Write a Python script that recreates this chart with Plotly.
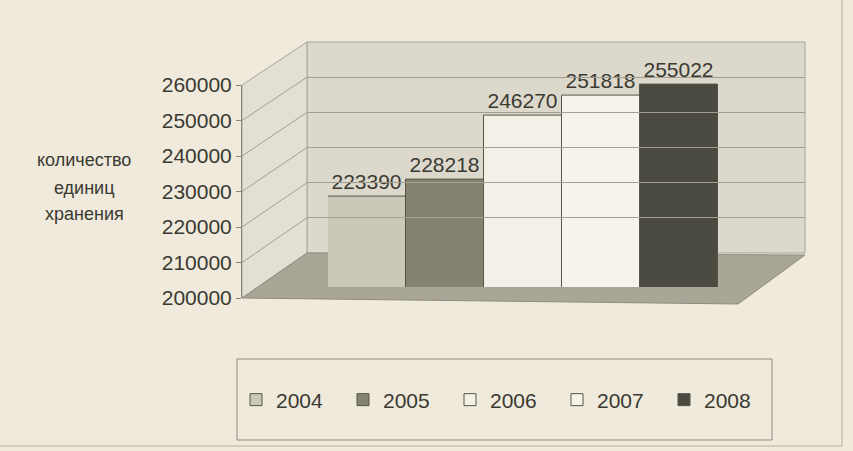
import plotly.graph_objects as go

# ---- data ----
years = ["2004", "2005", "2006", "2007", "2008"]
values = [223390, 228218, 246270, 251818, 255022]
bar_colors = ["#cbc8b8", "#85836f", "#f3f1e7", "#f5f3ea", "#4b4a40"]
tick_vals = [200000, 210000, 220000, 230000, 240000, 250000, 260000]
tick_text = ["200000", "210000", "220000", "230000", "240000", "250000", "260000"]
axis_title_lines = ["количество", "единиц", "хранения"]

W, H = 853, 451
FONT = "Liberation Sans, Arial, sans-serif"
TXT = "#3a3932"
GRID = "#a29e90"


def px(x):
    return x / W


def py(y):
    return 1 - y / H


# bar plane: 200000 at 279px, 260000 at 66.6px; bars drawn down to 287px
BAR_TOP_PX, BAR_ZERO_PX, BAR_BOTTOM_PX = 66.6, 279.0, 287.0
units_per_px = (tick_vals[-1] - tick_vals[0]) / (BAR_ZERO_PX - BAR_TOP_PX)
bar_range_low = tick_vals[0] - (BAR_BOTTOM_PX - BAR_ZERO_PX) * units_per_px

fig = go.Figure()

# helper traces so every axis pair is drawn
fig.add_trace(go.Scatter(x=[None], y=[None], xaxis="x", yaxis="y",
                         showlegend=False, hoverinfo="skip"))
fig.add_trace(go.Scatter(x=[None], y=[None], xaxis="x3", yaxis="y3",
                         showlegend=False, hoverinfo="skip"))

for yr, v, c in zip(years, values, bar_colors):
    fig.add_trace(go.Bar(
        x=[yr], y=[v], name=yr,
        marker=dict(color=c, line=dict(color="#55544a", width=1)),
        text=[str(v)], textposition="outside", cliponaxis=False,
        constraintext="none",
        textfont=dict(size=21, color=TXT, family=FONT),
        xaxis="x2", yaxis="y2", hoverinfo="x+y",
    ))

shapes = []
# back wall
shapes.append(dict(type="rect", xref="paper", yref="paper",
                   x0=px(307), x1=px(805), y0=py(253), y1=py(42),
                   fillcolor="#dcd9cc", line=dict(color="#a9a698", width=1), layer="below"))
# side wall
shapes.append(dict(type="path", xref="paper", yref="paper",
                   path=f"M {px(242)},{py(85)} L {px(307)},{py(42)} L {px(307)},{py(253)} L {px(242)},{py(298)} Z",
                   fillcolor="#e2dfd3", line=dict(color="#a9a698", width=1), layer="below"))
# floor
shapes.append(dict(type="path", xref="paper", yref="paper",
                   path=f"M {px(242)},{py(298)} L {px(307)},{py(253)} L {px(805)},{py(255)} L {px(738)},{py(304)} Z",
                   fillcolor="#a9a698", line=dict(color="#8f8c7f", width=1), layer="below"))
# side-wall gridlines following the ticks
for v in tick_vals[1:-1]:
    f = (v - tick_vals[0]) / (tick_vals[-1] - tick_vals[0])
    yf = 298 - f * (298 - 85)
    yb = 253 - f * (253 - 42)
    shapes.append(dict(type="line", xref="paper", yref="paper",
                       x0=px(242), y0=py(yf), x1=px(307), y1=py(yb),
                       line=dict(color=GRID, width=1), layer="below"))
# legend frame
shapes.append(dict(type="rect", xref="paper", yref="paper",
                   x0=px(237), x1=px(772), y0=py(440), y1=py(359),
                   line=dict(color="#8d8a7e", width=1), fillcolor="rgba(0,0,0,0)", layer="below"))
# outer chart frame (bottom & right)
shapes.append(dict(type="line", xref="paper", yref="paper",
                   x0=0, y0=py(446), x1=px(842), y1=py(446),
                   line=dict(color="#b3b0a3", width=1), layer="below"))
shapes.append(dict(type="line", xref="paper", yref="paper",
                   x0=px(842), y0=1, x1=px(842), y1=py(446),
                   line=dict(color="#b3b0a3", width=1), layer="below"))

annotations = []
title_y = [160, 188, 214]
for t, yy in zip(axis_title_lines, title_y):
    annotations.append(dict(text=t, xref="paper", yref="paper",
                            x=px(84), y=py(yy), xanchor="center", yanchor="middle",
                            showarrow=False, font=dict(size=18, color=TXT, family=FONT)))

fig.update_layout(
    width=W, height=H,
    margin=dict(l=0, r=0, t=0, b=0, autoexpand=False),
    paper_bgcolor="#efeadb",
    plot_bgcolor="rgba(0,0,0,0)",
    font=dict(family=FONT, color=TXT),
    barmode="overlay", bargap=0,
    xaxis=dict(domain=[px(242), px(738)], visible=False, anchor="y", range=[0, 1]),
    yaxis=dict(domain=[py(298), py(85)], range=[tick_vals[0], tick_vals[-1]], anchor="x",
               tickvals=tick_vals, ticktext=tick_text, ticks="outside", ticklen=5,
               tickcolor="#8a877a", showline=True, linecolor="#8a877a", showgrid=False,
               zeroline=False, automargin=False,
               tickfont=dict(size=21, color=TXT, family=FONT)),
    xaxis2=dict(domain=[px(328), px(718)], range=[-0.5, 4.5], visible=False, anchor="y2",
                type="category", categoryorder="array", categoryarray=years),
    yaxis2=dict(domain=[py(BAR_BOTTOM_PX), py(BAR_TOP_PX)], range=[bar_range_low, tick_vals[-1]],
                visible=False, anchor="x2"),
    xaxis3=dict(domain=[px(307), px(805)], range=[0, 1], visible=False, anchor="y3"),
    yaxis3=dict(domain=[py(253), py(42)], range=[tick_vals[0], tick_vals[-1]], anchor="x3",
                tickvals=tick_vals, showticklabels=False, ticks="", showgrid=True,
                gridcolor=GRID, gridwidth=1, zeroline=False, showline=False),
    legend=dict(orientation="h", x=px(236), xanchor="left", y=py(400), yanchor="middle",
                bgcolor="rgba(0,0,0,0)", font=dict(size=21, color=TXT, family=FONT),
                entrywidth=62, itemwidth=30, traceorder="normal"),
    shapes=shapes, annotations=annotations,
)

fig.write_html(
    "out.html",
    config={"displayModeBar": False},
    post_script="document.body.style.margin='0';document.body.style.padding='0';"
                "document.body.style.overflow='hidden';",
)
